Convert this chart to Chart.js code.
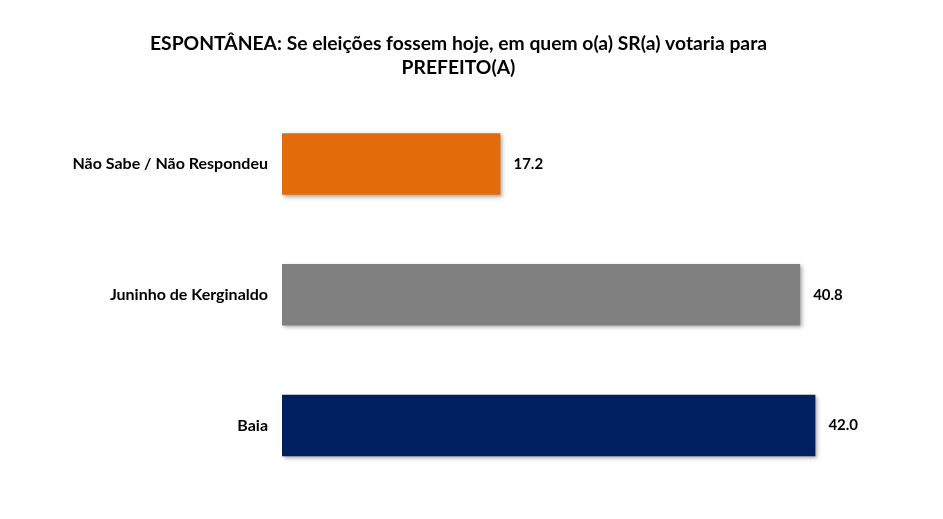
<!DOCTYPE html>
<html>
<head>
<meta charset="utf-8">
<script src="https://cdn.jsdelivr.net/npm/chart.js@4/dist/chart.umd.min.js"></script>
<style>
  html, body { margin: 0; padding: 0; background: #fff; }
  #wrap { width: 943px; height: 519px; position: relative; }
</style>
</head>
<body>
<div id="wrap"><canvas id="chart"></canvas></div>
<script>
const titleLines = ['ESPONTÂNEA: Se eleições fossem hoje, em quem o(a) SR(a) votaria para', 'PREFEITO(A)'];
const categories = ['Não Sabe / Não Respondeu', 'Juninho de Kerginaldo', 'Baia'];
const values = [17.2, 40.8, 42.0];
const barColors = ['#E36C0A', '#808080', '#002060'];

const FONT = 'Lato, "Open Sans", sans-serif';

// soft shadow under the bars
const shadowPlugin = {
    id: 'barShadow',
    beforeDatasetsDraw(chart) {
        const ctx = chart.ctx;
        ctx.save();
        ctx.shadowColor = 'rgba(0,0,0,0.35)';
        ctx.shadowBlur = 4;
        ctx.shadowOffsetX = 2;
        ctx.shadowOffsetY = 2;
    },
    afterDatasetsDraw(chart) {
        chart.ctx.restore();
    }
};

// value labels at the end of each bar
const valueLabels = {
    id: 'valueLabels',
    afterDatasetsDraw(chart) {
        const ctx = chart.ctx;
        const meta = chart.getDatasetMeta(0);
        ctx.save();
        ctx.font = 'bold 15px ' + FONT;
        ctx.fillStyle = '#000';
        ctx.textAlign = 'left';
        ctx.textBaseline = 'middle';
        meta.data.forEach((bar, i) => {
            ctx.fillText(values[i].toFixed(1), bar.x + 13, bar.y);
        });
        ctx.restore();
    }
};

new Chart(document.getElementById('chart'), {
    type: 'bar',
    data: {
        labels: categories,
        datasets: [{
            data: values,
            backgroundColor: barColors,
            borderWidth: 0,
            categoryPercentage: 0.94,
            barPercentage: 0.5
        }]
    },
    options: {
        indexAxis: 'y',
        responsive: true,
        maintainAspectRatio: false,
        animation: false,
        layout: { padding: { left: 0, right: 26, top: 0, bottom: 28 } },
        plugins: {
            legend: { display: false },
            tooltip: { enabled: false },
            title: {
                display: true,
                text: titleLines,
                color: '#000',
                font: { family: FONT, size: 19.3, weight: 'bold', lineHeight: 1.23 },
                padding: { top: 32, bottom: 19 }
            }
        },
        scales: {
            x: {
                min: 0,
                max: 50,
                display: false
            },
            y: {
                grid: { display: false },
                border: { display: false },
                ticks: {
                    color: '#000',
                    padding: 6,
                    font: { family: FONT, size: 16, weight: 'bold' }
                },
                afterFit(scale) { scale.width = 282; }
            }
        }
    },
    plugins: [shadowPlugin, valueLabels]
});
</script>
</body>
</html>
